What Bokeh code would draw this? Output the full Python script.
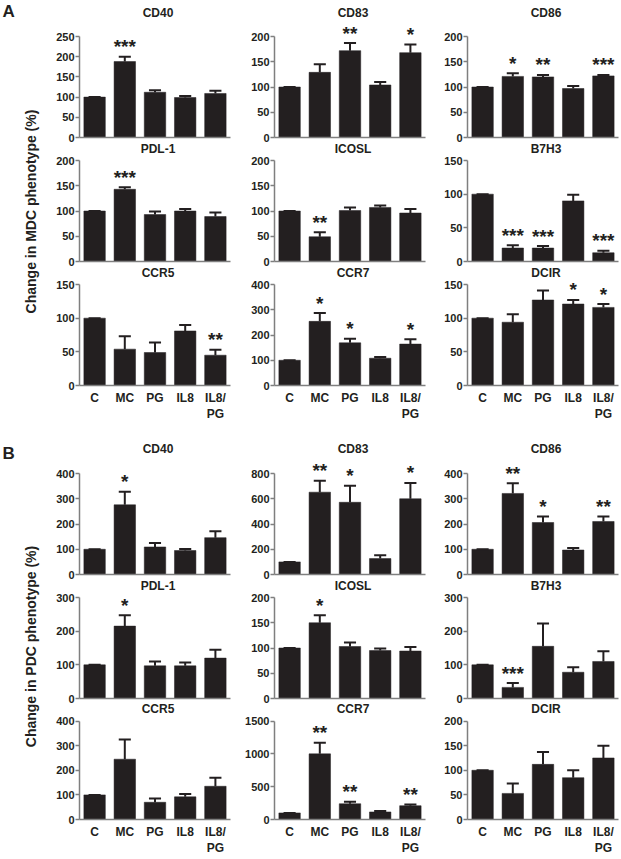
import math
from bokeh.plotting import figure
from bokeh.layouts import row, column
from bokeh.models import Range1d, FixedTicker, ColumnDataSource
from bokeh.embed import file_html
from bokeh.resources import INLINE
from bokeh.core.properties import value

# ---------------- data ----------------
GROUPS = ["C", "MC", "PG", "IL8", "IL8/\nPG"]
PANEL_TITLES = ["CD40", "CD83", "CD86", "PDL-1", "ICOSL", "B7H3", "CCR5", "CCR7", "DCIR"]

# A: MDC
MDC_CD40 = [100, 188, 112, 99, 109]
MDC_CD40_ERR = [0, 12, 5, 4, 7]
MDC_CD40_SIG = ["", "***", "", "", ""]
MDC_CD83 = [100, 129, 172, 104, 168]
MDC_CD83_ERR = [0, 16, 15, 6, 16]
MDC_CD83_SIG = ["", "", "**", "", "*"]
MDC_CD86 = [100, 121, 120, 97, 122]
MDC_CD86_ERR = [0, 6, 4, 5, 2]
MDC_CD86_SIG = ["", "*", "**", "", "***"]
MDC_PDL1 = [100, 143, 93, 100, 89]
MDC_PDL1_ERR = [0, 4, 6, 4, 8]
MDC_PDL1_SIG = ["", "***", "", "", ""]
MDC_ICOSL = [100, 49, 101, 107, 96]
MDC_ICOSL_ERR = [0, 9, 6, 4, 8]
MDC_ICOSL_SIG = ["", "**", "", "", ""]
MDC_B7H3 = [100, 20, 20, 90, 13]
MDC_B7H3_ERR = [0, 4, 3, 9, 3]
MDC_B7H3_SIG = ["", "***", "***", "", "***"]
MDC_CCR5 = [100, 54, 49, 81, 45]
MDC_CCR5_ERR = [0, 19, 15, 9, 8]
MDC_CCR5_SIG = ["", "", "", "", "**"]
MDC_CCR7 = [100, 254, 169, 108, 164]
MDC_CCR7_ERR = [0, 33, 16, 5, 19]
MDC_CCR7_SIG = ["", "*", "*", "", "*"]
MDC_DCIR = [100, 94, 127, 121, 116]
MDC_DCIR_ERR = [0, 12, 14, 6, 5]
MDC_DCIR_SIG = ["", "", "", "*", "*"]
MDC_YMAX = [250, 200, 200, 200, 200, 150, 150, 400, 150]
MDC_YSTEP = [50, 50, 50, 50, 50, 50, 50, 100, 50]

# B: PDC
PDC_CD40 = [100, 276, 109, 95, 146]
PDC_CD40_ERR = [0, 52, 16, 6, 25]
PDC_CD40_SIG = ["", "*", "", "", ""]
PDC_CD83 = [100, 652, 572, 126, 600]
PDC_CD83_ERR = [0, 90, 130, 26, 125]
PDC_CD83_SIG = ["", "**", "*", "", "*"]
PDC_CD86 = [100, 321, 206, 97, 210]
PDC_CD86_ERR = [0, 40, 24, 8, 20]
PDC_CD86_SIG = ["", "**", "*", "", "**"]
PDC_PDL1 = [100, 215, 97, 97, 120]
PDC_PDL1_ERR = [0, 32, 13, 10, 25]
PDC_PDL1_SIG = ["", "*", "", "", ""]
PDC_ICOSL = [100, 150, 103, 95, 94]
PDC_ICOSL_ERR = [0, 15, 8, 4, 8]
PDC_ICOSL_SIG = ["", "*", "", "", ""]
PDC_B7H3 = [100, 33, 155, 78, 110]
PDC_B7H3_ERR = [0, 13, 68, 15, 30]
PDC_B7H3_SIG = ["", "***", "", "", ""]
PDC_CCR5 = [100, 245, 70, 92, 135]
PDC_CCR5_ERR = [0, 80, 15, 12, 35]
PDC_CCR5_SIG = ["", "", "", "", ""]
PDC_CCR7 = [100, 1000, 240, 115, 210]
PDC_CCR7_ERR = [0, 170, 30, 15, 20]
PDC_CCR7_SIG = ["", "**", "**", "", "**"]
PDC_DCIR = [100, 53, 112, 85, 125]
PDC_DCIR_ERR = [0, 20, 25, 15, 25]
PDC_DCIR_SIG = ["", "", "", "", ""]
PDC_YMAX = [400, 800, 400, 300, 200, 300, 400, 1500, 200]
PDC_YSTEP = [100, 200, 100, 100, 50, 100, 100, 500, 50]

MDC_PANELS = [
    (MDC_CD40, MDC_CD40_ERR, MDC_CD40_SIG), (MDC_CD83, MDC_CD83_ERR, MDC_CD83_SIG),
    (MDC_CD86, MDC_CD86_ERR, MDC_CD86_SIG), (MDC_PDL1, MDC_PDL1_ERR, MDC_PDL1_SIG),
    (MDC_ICOSL, MDC_ICOSL_ERR, MDC_ICOSL_SIG), (MDC_B7H3, MDC_B7H3_ERR, MDC_B7H3_SIG),
    (MDC_CCR5, MDC_CCR5_ERR, MDC_CCR5_SIG), (MDC_CCR7, MDC_CCR7_ERR, MDC_CCR7_SIG),
    (MDC_DCIR, MDC_DCIR_ERR, MDC_DCIR_SIG),
]
PDC_PANELS = [
    (PDC_CD40, PDC_CD40_ERR, PDC_CD40_SIG), (PDC_CD83, PDC_CD83_ERR, PDC_CD83_SIG),
    (PDC_CD86, PDC_CD86_ERR, PDC_CD86_SIG), (PDC_PDL1, PDC_PDL1_ERR, PDC_PDL1_SIG),
    (PDC_ICOSL, PDC_ICOSL_ERR, PDC_ICOSL_SIG), (PDC_B7H3, PDC_B7H3_ERR, PDC_B7H3_SIG),
    (PDC_CCR5, PDC_CCR5_ERR, PDC_CCR5_SIG), (PDC_CCR7, PDC_CCR7_ERR, PDC_CCR7_SIG),
    (PDC_DCIR, PDC_DCIR_ERR, PDC_DCIR_SIG),
]

# ---------------- style ----------------
FONT = "Liberation Sans"
INK = "#231f20"
AXIS = "#7f7f7f"
FRAME_W, PLOT_H = 151, 101
COL_BORDERS = [(38, 6), (38, 4), (38, 2)]
LABEL_W = 41


def make_panel(title, means, errs, sigs, ymax, ystep, col, top_h, bot_b, title_gap, show_x):
    bl, br = COL_BORDERS[col]
    # the frame extends top_h pixels above the axis top so titles and stars stay visible
    y_end = ymax * (PLOT_H + top_h) / PLOT_H
    p = figure(width=bl + FRAME_W + br, height=top_h + PLOT_H + bot_b,
               x_range=Range1d(-0.5, 4.5), y_range=Range1d(0, y_end),
               output_backend="svg", toolbar_location=None,
               min_border_left=bl, min_border_right=br,
               min_border_top=0, min_border_bottom=bot_b)

    xs = list(range(len(means)))
    etop = [m + e for m, e in zip(means, errs)]
    src = ColumnDataSource(dict(
        x=xs, top=means, etop=etop, sig=sigs,
        cl=[x - 0.2 for x in xs], cr=[x + 0.2 for x in xs]))
    p.vbar(x="x", top="top", width=0.71, source=src,
           fill_color=INK, line_color=INK, line_width=0.5)
    p.segment(x0="x", y0="top", x1="x", y1="etop", source=src,
              line_color=INK, line_width=2)
    p.segment(x0="cl", y0="etop", x1="cr", y1="etop", source=src,
              line_color=INK, line_width=2)
    p.text(x="x", y="etop", text="sig", source=src, y_offset=-10,
           text_font=value(FONT), text_font_style="bold", text_font_size="19px",
           text_align="center", text_baseline="alphabetic", text_color=INK)

    p.text(x=[2], y=[ymax], text=[title], x_offset=3, y_offset=-title_gap,
           text_font=value(FONT), text_font_style="bold", text_font_size="12px",
           text_color=INK, text_align="center", text_baseline="middle")

    p.xgrid.visible = False
    p.ygrid.visible = False
    p.outline_line_color = None

    ya = p.yaxis[0]
    ya.bounds = (0, ymax)
    ya.ticker = FixedTicker(ticks=list(range(0, ymax + 1, ystep)))
    ya.major_label_text_font = FONT
    ya.major_label_text_font_style = "bold"
    ya.major_label_text_font_size = "11px"
    ya.major_label_text_color = INK
    ya.major_label_standoff = 1
    ya.major_tick_out = 4
    ya.major_tick_in = 0
    ya.minor_tick_out = 0
    ya.minor_tick_in = 0
    ya.axis_line_color = AXIS
    ya.axis_line_width = 1.5
    ya.major_tick_line_color = AXIS
    ya.major_tick_line_width = 1.5

    xa = p.xaxis[0]
    xa.ticker = FixedTicker(ticks=xs if show_x else [])
    xa.major_label_overrides = {i: g for i, g in enumerate(GROUPS)}
    xa.major_label_text_font = FONT
    xa.major_label_text_font_style = "bold"
    xa.major_label_text_font_size = "12px"
    xa.major_label_text_color = INK
    xa.major_label_standoff = 5 if show_x else 0
    xa.major_tick_out = 0
    xa.major_tick_in = 0
    xa.minor_tick_out = 0
    xa.minor_tick_in = 0
    xa.axis_line_color = AXIS
    xa.axis_line_width = 1.5
    return p


def make_label(letter, text, height, letter_top, label_y):
    p = figure(width=LABEL_W, height=height, x_range=Range1d(0, LABEL_W),
               y_range=Range1d(0, height), min_border=0,
               x_axis_location=None, y_axis_location=None,
               output_backend="svg", toolbar_location=None)
    p.xgrid.visible = False
    p.ygrid.visible = False
    p.outline_line_color = None
    p.text(x=[2], y=[height - letter_top], text=[letter], text_font=value(FONT),
           text_font_style="bold", text_font_size="17px", text_color=INK,
           text_align="left", text_baseline="top")
    p.text(x=[30], y=[label_y], text=[text], angle=math.pi / 2,
           text_font=value(FONT), text_font_style="bold", text_font_size="14px",
           text_color=INK, text_align="center", text_baseline="middle")
    return p


def make_group(panels, ymaxs, ysteps, row_specs):
    rows = []
    for r in range(3):
        top_h, bot_b, gap = row_specs[r]
        figs = []
        for c in range(3):
            i = r * 3 + c
            m, e, s = panels[i]
            figs.append(make_panel(PANEL_TITLES[i], m, e, s, ymaxs[i], ysteps[i],
                                   c, top_h, bot_b, gap, r == 2))
        rows.append(row(*figs))
    return column(*rows)


A_SPECS = [(36, 5, 24), (18, 5, 12), (18, 45, 12)]
B_SPECS = [(43, 5, 25), (18, 5, 12), (18, 36, 12)]
A_H = sum(t + PLOT_H + b for t, b, _ in A_SPECS)
B_H = sum(t + PLOT_H + b for t, b, _ in B_SPECS)

gridA = make_group(MDC_PANELS, MDC_YMAX, MDC_YSTEP, A_SPECS)
gridB = make_group(PDC_PANELS, PDC_YMAX, PDC_YSTEP, B_SPECS)
labA = make_label("A", "Change in MDC phenotype (%)", A_H, 1, A_H - 211)
labB = make_label("B", "Change in PDC phenotype (%)", B_H, 13, B_H - (646 - A_H))

layout = column(row(labA, gridA), row(labB, gridB))

open("out.html", "w").write(file_html(layout, INLINE))
